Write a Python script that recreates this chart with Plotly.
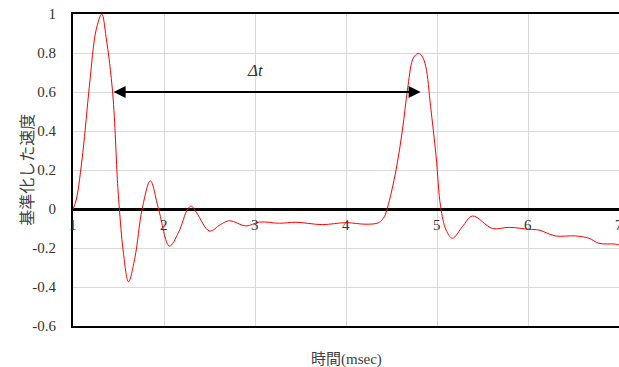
import plotly.graph_objects as go

# data
time_ms = [1.00, 1.035, 1.108, 1.18, 1.255, 1.316, 1.364, 1.437, 1.49, 1.51, 1.55, 1.61, 1.68, 1.76,
           1.85, 1.94, 2.06, 2.16, 2.26, 2.30, 2.36, 2.50, 2.62, 2.72, 2.90, 3.05, 3.27, 3.45,
           3.74, 4.00, 4.22, 4.36, 4.42, 4.455, 4.55, 4.62, 4.675, 4.73, 4.765, 4.80, 4.84, 4.877, 4.93,
           4.99, 5.04, 5.10, 5.17, 5.28, 5.39, 5.61, 5.79, 6.01, 6.12, 6.30, 6.52, 6.67,
           6.78, 6.96, 7.00]
velocity = [0.00, 0.046, 0.29, 0.63, 0.92, 1.00, 0.88, 0.59, 0.13, 0.00, -0.21, -0.373, -0.25, 0.00,
            0.144, 0.00, -0.19, -0.12, 0.00, 0.015, -0.02, -0.113, -0.08, -0.06, -0.087, -0.067, -0.073, -0.068,
            -0.08, -0.07, -0.078, -0.07, -0.04, 0.005, 0.20, 0.405, 0.61, 0.764, 0.79, 0.798, 0.78, 0.73, 0.525,
            0.27, 0.012, -0.108, -0.15, -0.09, -0.036, -0.10, -0.094, -0.104, -0.108, -0.138, -0.138, -0.15,
            -0.176, -0.18, -0.185]

x_ticks = [1, 2, 3, 4, 5, 6, 7]
y_ticks = [1, 0.8, 0.6, 0.4, 0.2, 0, -0.2, -0.4, -0.6]
y_tick_labels = ["1", "0.8", "0.6", "0.4", "0.2", "0", "-0.2", "-0.4", "-0.6"]
arrow_start = 1.43
arrow_end = 4.82
arrow_level = 0.6

serif = "Liberation Serif, DejaVu Serif, Noto Sans CJK JP, serif"

fig = go.Figure()
fig.add_trace(go.Scatter(x=time_ms, y=velocity, mode="lines",
                         line=dict(color="#ff0000", width=1, shape="spline", smoothing=1.0),
                         hoverinfo="skip", showlegend=False))

# double-headed arrow
fig.add_annotation(x=arrow_end, y=arrow_level, ax=arrow_start, ay=arrow_level,
                   xref="x", yref="y", axref="x", ayref="y", text="",
                   showarrow=True, arrowhead=2, startarrowhead=2, arrowside="end+start",
                   arrowsize=1.2, startarrowsize=1.2, arrowwidth=2, arrowcolor="black")
fig.add_annotation(x=3.0, y=0.71, xref="x", yref="y", text="<i>Δt</i>", showarrow=False,
                   font=dict(family=serif, size=17, color="#333333"))

# x tick labels next to the zero line
for t in x_ticks:
    fig.add_annotation(x=t, y=0, xref="x", yref="y", text=str(t), showarrow=False,
                       yanchor="top", yshift=-6, font=dict(family=serif, size=15, color="#333333"))

# axis titles
fig.add_annotation(x=0.5, y=-0.075, xref="paper", yref="paper", text="時間(msec)",
                   showarrow=False, yanchor="top",
                   font=dict(family=serif, size=15, color="#404040"))
fig.add_annotation(x=-0.104, y=0.5, xref="paper", yref="paper", text="基準化した速度",
                   showarrow=False, textangle=-90,
                   font=dict(family=serif, size=16, color="#404040"))

fig.update_layout(
    width=619, height=367,
    margin=dict(l=73, r=0, t=14, b=41),
    paper_bgcolor="white", plot_bgcolor="white",
    xaxis=dict(range=[1, 7], tickvals=x_ticks, showticklabels=False,
               showgrid=True, gridcolor="#d9d9d9", gridwidth=1,
               showline=True, linecolor="black", linewidth=2, mirror=True,
               zeroline=False, ticks=""),
    yaxis=dict(range=[-0.6, 1], tickvals=y_ticks, ticktext=y_tick_labels,
               showgrid=True, gridcolor="#d9d9d9", gridwidth=1,
               showline=True, linecolor="black", linewidth=2,
               zeroline=True, zerolinecolor="black", zerolinewidth=2.5,
               ticks="", ticklabelstandoff=12,
               tickfont=dict(family=serif, size=15, color="#333333")),
)

fig.write_html("out.html", config={"displayModeBar": False},
               post_script="document.body.style.margin='0';document.body.style.overflow='hidden';")
